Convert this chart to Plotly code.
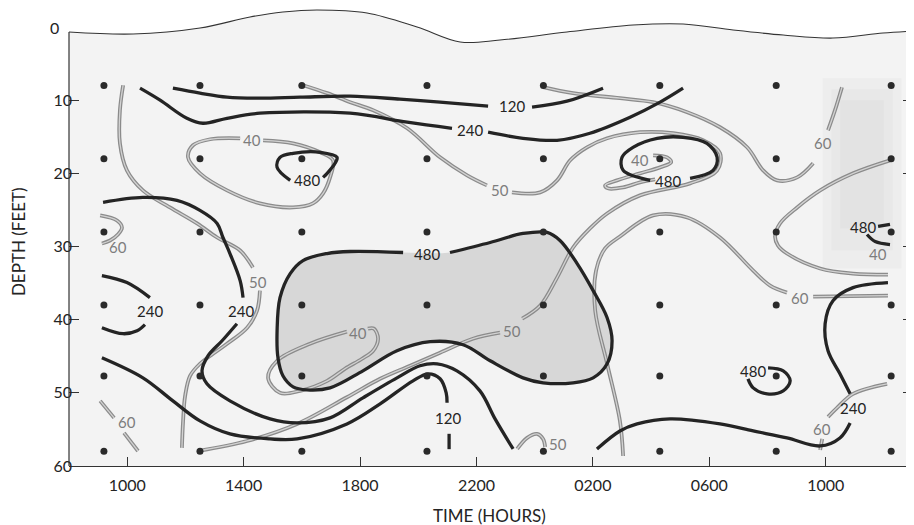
import plotly.graph_objects as go

# ---------------- axis values ----------------
TIME_TICKS = [10, 14, 18, 22, 26, 30, 34]
TIME_TICK_LABELS = ["1000", "1400", "1800", "2200", "0200", "0600", "1000"]
DEPTH_TICKS = [10, 20, 30, 40, 50, 60]
TIME_RANGE = [8, 37]
DEPTH_RANGE = [60, -2.6]

# sampling stations (hours since 0000 of day 1, depth in feet)
STATION_TIMES = [9.2, 12.5, 16.0, 20.3, 24.3, 28.3, 32.3, 36.25]
STATION_DEPTHS = [8, 18, 28, 38, 47.7, 58]

# water surface
SURFACE = [(8.0, 0.68), (10.2, 0.96), (12.5, 0.14), (14.22, -1.37), (15.35, -2.05),
           (16.52, -2.33), (18.24, -1.92), (19.96, 0.0), (21.44, 2.05), (22.81, 1.78),
           (25.11, 0.68), (27.38, -0.27), (29.1, -0.41), (30.82, 0.41), (32.54, 1.1),
           (34.25, 1.51), (35.97, 0.82), (37.0, 0.55)]

# ---------------- black isolines (120 / 240 / 480) ----------------
ISO120_UPPER_A = [(11.57, 8.36), (12.5, 9.04), (13.43, 9.59), (14.56, 9.73), (15.94, 9.59),
                  (17.66, 9.45), (19.37, 9.86), (20.75, 10.27), (22.4, 10.82)]
ISO120_UPPER_B = [(23.91, 10.96), (25.11, 10.14), (26.35, 8.36)]
ISO240_UPPER_A = [(10.44, 8.36), (11.13, 10.0), (12.05, 12.47), (12.6, 13.15), (13.43, 12.47),
                  (14.56, 11.78), (17.66, 11.78), (19.62, 13.01), (21.16, 13.84)]
ISO240_UPPER_B = [(22.4, 14.38), (23.6, 15.21), (24.77, 15.48), (25.9, 14.52), (27.28, 12.33),
                  (28.31, 10.27), (29.1, 8.36)]
ISO480_LOOP_W = [(15.6, 20.96), (15.15, 19.18), (15.25, 17.81), (15.7, 17.26), (16.63, 17.12),
                 (17.21, 17.81), (17.14, 18.63), (16.87, 20.0), (16.73, 20.55)]
ISO480_LOOP_NE = [(27.97, 20.96), (27.04, 19.59), (27.0, 17.81), (27.38, 16.44), (28.21, 15.21),
                  (29.1, 15.07), (29.92, 15.89), (30.27, 17.81), (30.13, 19.59), (29.34, 20.68)]
ISO480_BLOB = [(21.09, 30.82), (22.47, 29.45), (23.6, 28.22), (24.43, 28.08), (24.87, 29.18),
               (25.46, 32.33), (26.01, 36.03), (26.49, 39.73), (26.66, 42.88), (26.49, 46.03),
               (26.01, 47.95), (25.32, 48.63), (24.29, 48.63), (23.6, 47.95), (22.47, 45.62),
               (21.54, 43.42), (20.41, 43.01), (19.27, 44.25), (18.1, 46.99), (16.97, 49.32),
               (16.18, 49.59), (15.7, 49.18), (15.35, 47.67), (15.18, 45.21), (15.15, 41.51),
               (15.25, 36.99), (15.6, 33.7), (16.04, 31.92), (16.87, 30.96), (17.66, 30.68),
               (19.48, 30.82)]
ISO240_WEST_UPPER = [(9.13, 33.97), (9.99, 34.93), (10.78, 36.99)]
ISO240_WEST_LOWER = [(9.13, 41.1), (9.86, 41.92), (10.34, 41.51), (10.61, 40.68)]
ISO240_MID_A = [(9.17, 23.97), (10.54, 23.29), (11.71, 23.7), (12.5, 25.07), (13.09, 26.85),
                (13.29, 28.77), (13.53, 30.96), (13.88, 34.66), (13.98, 36.99)]
ISO240_MID_B = [(13.77, 40.55), (13.26, 42.88), (12.78, 44.93), (12.57, 46.99), (12.74, 48.77),
                (13.53, 51.1), (14.91, 53.56), (15.84, 54.11), (16.97, 53.42), (18.1, 50.68),
                (19.27, 47.95), (20.06, 46.3), (20.65, 46.03), (21.33, 46.99), (22.12, 49.73),
                (22.64, 53.56), (23.26, 57.67)]
ISO120_LOWER = [(9.13, 45.21), (10.54, 47.95), (11.57, 51.1), (12.5, 53.84), (13.53, 55.62),
                (14.91, 56.3), (15.84, 56.3), (17.55, 54.25), (18.69, 51.51), (19.82, 48.36),
                (20.34, 47.4), (20.75, 48.08), (20.96, 50.0), (20.99, 51.37)]
ISO120_LOWER_TAIL = [(21.06, 55.6), (21.06, 57.7)]
ISO240_EAST_A = [(36.14, 34.93), (34.94, 35.62), (34.25, 37.4), (33.98, 40.55), (34.08, 44.25),
                 (34.49, 47.4), (34.84, 50.14)]
ISO240_EAST_B = [(34.84, 54.11), (34.49, 56.16), (33.81, 57.26), (32.67, 56.16), (31.51, 55.21),
                 (30.37, 54.25), (28.65, 53.56), (27.52, 54.25), (26.93, 55.21), (26.14, 57.67)]
ISO480_LOOP_SE = [(32.02, 46.58), (32.54, 46.99), (32.78, 48.36), (32.54, 49.73), (31.99, 50.14),
                  (31.51, 49.32), (31.33, 48.08)]
ISO480_HOOK_UPPER = [(35.8, 27.26), (36.21, 26.99)]
ISO480_HOOK_LOWER = [(35.42, 28.36), (35.7, 29.32), (36.21, 29.73)]

# ---------------- grey isolines (40 / 50 / 60) ----------------
ISO50_WEST_A = [(9.86, 7.95), (9.75, 11.37), (9.75, 15.89), (9.99, 19.59), (10.54, 22.33),
                (11.47, 24.66), (12.4, 26.85), (13.09, 28.77), (13.88, 30.55), (14.32, 32.88)]
ISO50_WEST_B = [(14.56, 36.03), (14.46, 38.77), (14.12, 41.1), (13.43, 43.29), (12.95, 44.66),
                (12.5, 46.03), (12.16, 47.67), (11.99, 50.41), (11.92, 53.84), (11.88, 57.53)]
ISO40_LOOP_W = [(14.67, 15.48), (15.7, 15.89), (16.63, 17.12), (17.07, 18.22), (16.97, 20.55),
                (16.73, 22.74), (16.38, 24.11), (15.7, 24.66), (14.56, 24.11), (13.43, 22.33),
                (12.5, 20.0), (12.09, 17.81), (12.26, 16.16), (12.85, 15.34), (13.88, 15.21)]
ISO50_MAIN_A = [(16.04, 7.95), (16.87, 9.04), (17.66, 10.27), (18.45, 11.37), (19.62, 13.84),
                (20.75, 17.81), (21.68, 20.27), (22.36, 21.64)]
ISO50_MAIN_B = [(23.22, 22.6), (24.19, 22.6), (24.77, 20.96), (25.22, 18.22), (25.8, 16.44),
                (26.49, 15.21), (27.62, 14.38), (28.76, 14.52), (29.79, 15.48), (30.37, 17.26),
                (30.27, 19.59), (29.34, 21.37), (27.62, 23.01), (26.49, 25.48), (25.9, 27.53),
                (25.32, 30.14), (24.77, 34.25), (24.19, 38.08), (23.57, 39.86)]
ISO50_MAIN_C = [(22.81, 41.78), (21.88, 42.6), (20.75, 44.52), (19.72, 46.3), (18.69, 48.08),
                (17.55, 50.6), (15.84, 54.25), (14.12, 56.58), (12.43, 57.95)]
ISO60_NORTH_A = [(24.29, 8.22), (25.32, 9.04), (26.93, 9.73), (28.07, 10.27), (29.24, 11.64),
                 (30.37, 13.7), (31.3, 16.44), (31.85, 19.59), (32.33, 20.96), (33.02, 20.55),
                 (33.57, 18.63)]
ISO60_NORTH_B = [(34.08, 14.11), (34.32, 11.37), (34.56, 8.22)]
ISO40_EAST = [(36.21, 18.22), (34.94, 20.0), (33.81, 22.33), (33.02, 24.66), (32.43, 26.85),
              (32.26, 28.63), (32.36, 29.86), (32.67, 30.96), (33.81, 33.01), (34.94, 33.7),
              (36.14, 33.84)]
ISO60_EAST_A = [(27.04, 58.63), (26.93, 53.84), (26.49, 46.03), (26.08, 38.77), (26.11, 33.29),
                (26.42, 30.27), (26.93, 28.63), (28.07, 25.75), (29.24, 26.03), (30.37, 28.77),
                (31.51, 33.29), (32.09, 35.34), (32.67, 36.3)]
ISO60_EAST_B = [(33.57, 36.85), (36.14, 36.71)]
ISO40_LOOP_NE = [(28.07, 17.53), (28.55, 17.81), (28.69, 18.49), (28.31, 19.18), (27.62, 20.0),
                 (26.83, 20.96), (26.42, 21.64), (26.52, 22.05), (27.04, 21.92), (27.62, 21.23),
                 (28.14, 20.82)]
ISO40_LOOP_BLOB = [(17.55, 41.64), (16.28, 43.29), (15.15, 45.62), (14.84, 47.95), (15.25, 50.0),
                   (15.94, 49.73), (16.87, 48.36), (17.48, 46.71), (18.07, 45.34), (18.45, 44.25),
                   (18.62, 42.6), (18.48, 41.23), (18.27, 41.23)]
ISO60_WEST_SMALL = [(9.07, 25.75), (9.65, 26.44), (9.82, 27.4), (9.68, 28.36), (9.41, 29.18),
                    (9.13, 29.59)]
ISO60_SW_A = [(9.07, 51.1), (9.55, 53.42)]
ISO60_SW_B = [(9.89, 55.48), (10.37, 57.95)]
ISO50_SOUTH = [(23.4, 57.67), (23.74, 56.16), (24.08, 55.62), (24.29, 56.3), (24.36, 57.4)]
ISO60_SE_A = [(36.11, 48.77), (34.94, 50.14), (34.39, 52.05), (34.08, 53.29)]
ISO60_SE_B = [(33.88, 56.3), (33.81, 57.81)]

# soft shaded zone in the north-east (nested bands: hour span, depth span)
SHADE_NE_BANDS = [((33.9, 36.6), (7.0, 33.0)),
                  ((34.2, 36.3), (8.5, 30.5)),
                  ((34.5, 36.0), (10.0, 27.5))]

# isoline labels: (text, hour, depth)
BLACK_LABELS = [("120", 23.22, 10.82), ("240", 21.78, 14.11), ("480", 16.18, 20.96),
                ("480", 20.3, 30.96), ("240", 10.78, 38.77), ("240", 13.91, 38.77),
                ("120", 21.02, 53.42), ("480", 28.58, 21.1), ("480", 35.29, 27.4),
                ("480", 31.51, 46.99), ("240", 34.94, 52.05)]
GREY_LABELS = [("40", 14.29, 15.48), ("50", 22.81, 22.33), ("40", 27.62, 18.22),
               ("60", 33.91, 15.89), ("60", 9.68, 30.0), ("40", 35.8, 30.96),
               ("50", 14.49, 34.79), ("60", 33.12, 36.99), ("40", 17.93, 41.78),
               ("50", 23.22, 41.51), ("60", 9.99, 53.97), ("50", 24.8, 56.99),
               ("60", 33.88, 54.93)]

BLACK_SEGMENTS = [ISO120_UPPER_A, ISO120_UPPER_B, ISO240_UPPER_A, ISO240_UPPER_B,
                  ISO480_LOOP_W, ISO480_LOOP_NE, ISO480_BLOB, ISO240_WEST_UPPER,
                  ISO240_WEST_LOWER, ISO240_MID_A, ISO240_MID_B, ISO120_LOWER,
                  ISO120_LOWER_TAIL, ISO240_EAST_A, ISO240_EAST_B, ISO480_LOOP_SE,
                  ISO480_HOOK_UPPER, ISO480_HOOK_LOWER]
GREY_SEGMENTS = [ISO50_WEST_A, ISO50_WEST_B, ISO40_LOOP_W, ISO50_MAIN_A, ISO50_MAIN_B,
                 ISO50_MAIN_C, ISO60_NORTH_A, ISO60_NORTH_B, ISO40_EAST, ISO60_EAST_A,
                 ISO60_EAST_B, ISO40_LOOP_NE, ISO40_LOOP_BLOB, ISO60_WEST_SMALL, ISO60_SW_A,
                 ISO60_SW_B, ISO50_SOUTH, ISO60_SE_A, ISO60_SE_B]

FONT = "Lato, 'DejaVu Sans', sans-serif"
INK = "#242424"
GREY_INK = "#7d7d7d"


def xs(seg):
    return [p[0] for p in seg]


def ys(seg):
    return [p[1] for p in seg]


fig = go.Figure()

# water body background (between surface and bottom of section)
fig.add_trace(go.Scatter(x=TIME_RANGE, y=[DEPTH_RANGE[0], DEPTH_RANGE[0]], mode="lines",
                         line=dict(width=0, color="rgba(0,0,0,0)"), hoverinfo="skip",
                         showlegend=False))
fig.add_trace(go.Scatter(x=xs(SURFACE), y=ys(SURFACE), mode="lines", fill="tonexty",
                         fillcolor="#f3f3f3",
                         line=dict(color="#333333", width=1.1, shape="spline", smoothing=1.0),
                         hoverinfo="skip", showlegend=False))

# north-east soft darker zone
for (h0, h1), (d0, d1) in SHADE_NE_BANDS:
    fig.add_trace(go.Scatter(x=[h0, h1, h1, h0], y=[d0, d0, d1, d1],
                             mode="lines", fill="toself", fillcolor="rgba(205,205,205,0.16)",
                             line=dict(width=0, color="rgba(0,0,0,0)"), hoverinfo="skip",
                             showlegend=False))

# shaded 480 blob
fig.add_trace(go.Scatter(x=xs(ISO480_BLOB) + [ISO480_BLOB[0][0]],
                         y=ys(ISO480_BLOB) + [ISO480_BLOB[0][1]],
                         mode="lines", fill="toself", fillcolor="#d7d7d7",
                         line=dict(width=0, color="rgba(0,0,0,0)", shape="spline", smoothing=1.0),
                         hoverinfo="skip", showlegend=False))

# grey isolines (double stroke)
for seg in GREY_SEGMENTS:
    fig.add_trace(go.Scatter(x=xs(seg), y=ys(seg), mode="lines",
                             line=dict(color="#8b8b8b", width=3.8, shape="spline", smoothing=1.0),
                             hoverinfo="skip", showlegend=False))
    fig.add_trace(go.Scatter(x=xs(seg), y=ys(seg), mode="lines",
                             line=dict(color="#d2d2d2", width=1.3, shape="spline", smoothing=1.0),
                             hoverinfo="skip", showlegend=False))

# black isolines
for seg in BLACK_SEGMENTS:
    fig.add_trace(go.Scatter(x=xs(seg), y=ys(seg), mode="lines",
                             line=dict(color=INK, width=3.3, shape="spline", smoothing=1.0),
                             hoverinfo="skip", showlegend=False))

# stations
st_x = [t for d in STATION_DEPTHS for t in STATION_TIMES]
st_y = [d for d in STATION_DEPTHS for t in STATION_TIMES]
fig.add_trace(go.Scatter(x=st_x, y=st_y, mode="markers",
                         marker=dict(size=7, color="#2a2a2a"), hoverinfo="skip",
                         showlegend=False))

annotations = []
for txt, h, d in BLACK_LABELS:
    annotations.append(dict(x=h, y=d, xref="x", yref="y", text=txt, showarrow=False,
                            font=dict(family=FONT, size=15, color=INK)))
for txt, h, d in GREY_LABELS:
    annotations.append(dict(x=h, y=d, xref="x", yref="y", text=txt, showarrow=False,
                            font=dict(family=FONT, size=15, color=GREY_INK)))

# "0" depth label at surface
annotations.append(dict(x=0, y=0, xref="paper", yref="y", text="0", showarrow=False,
                        xanchor="right", yanchor="middle", xshift=-8,
                        font=dict(family=FONT, size=16, color=INK)))
# axis titles
annotations.append(dict(x=0.4988, y=-0.107, xref="paper", yref="paper", text="TIME (HOURS)",
                        xanchor="center", yanchor="middle", showarrow=False,
                        font=dict(family=FONT, size=17, color=INK)))
annotations.append(dict(x=-0.0604, y=0.489, xref="paper", yref="paper", text="DEPTH (FEET)",
                        xanchor="center", yanchor="middle", textangle=-90, showarrow=False,
                        font=dict(family=FONT, size=17, color=INK)))

shapes = [
    dict(type="line", xref="paper", yref="y", x0=0, x1=0, y0=SURFACE[0][1], y1=DEPTH_RANGE[0],
         line=dict(color="#333333", width=1.2)),
    dict(type="line", xref="paper", yref="y", x0=0.9995, x1=0.9995, y0=SURFACE[-1][1],
         y1=DEPTH_RANGE[0], line=dict(color="#333333", width=1.2)),
]

# the page adds an 8 px body margin, so the figure is sized to fit the 914x525 window
fig.update_layout(
    width=906, height=517,
    margin=dict(l=61, r=1, t=0, b=59),
    paper_bgcolor="white", plot_bgcolor="white",
    showlegend=False,
    annotations=annotations,
    shapes=shapes,
    xaxis=dict(range=TIME_RANGE, tickvals=TIME_TICKS, ticktext=TIME_TICK_LABELS,
               ticks="inside", ticklen=9, tickcolor="#333333", tickwidth=1.2,
               showline=True, linecolor="#333333", linewidth=1.2, showgrid=False,
               zeroline=False, ticklabelstandoff=5,
               tickfont=dict(family=FONT, size=16, color=INK)),
    yaxis=dict(range=DEPTH_RANGE, tickvals=DEPTH_TICKS, ticks="inside", ticklen=10,
               tickcolor="#333333", tickwidth=1.2, mirror="ticks", showline=False,
               showgrid=False, zeroline=False, ticklabelstandoff=-4,
               tickfont=dict(family=FONT, size=16, color=INK)),
)

fig.write_html("out.html")
